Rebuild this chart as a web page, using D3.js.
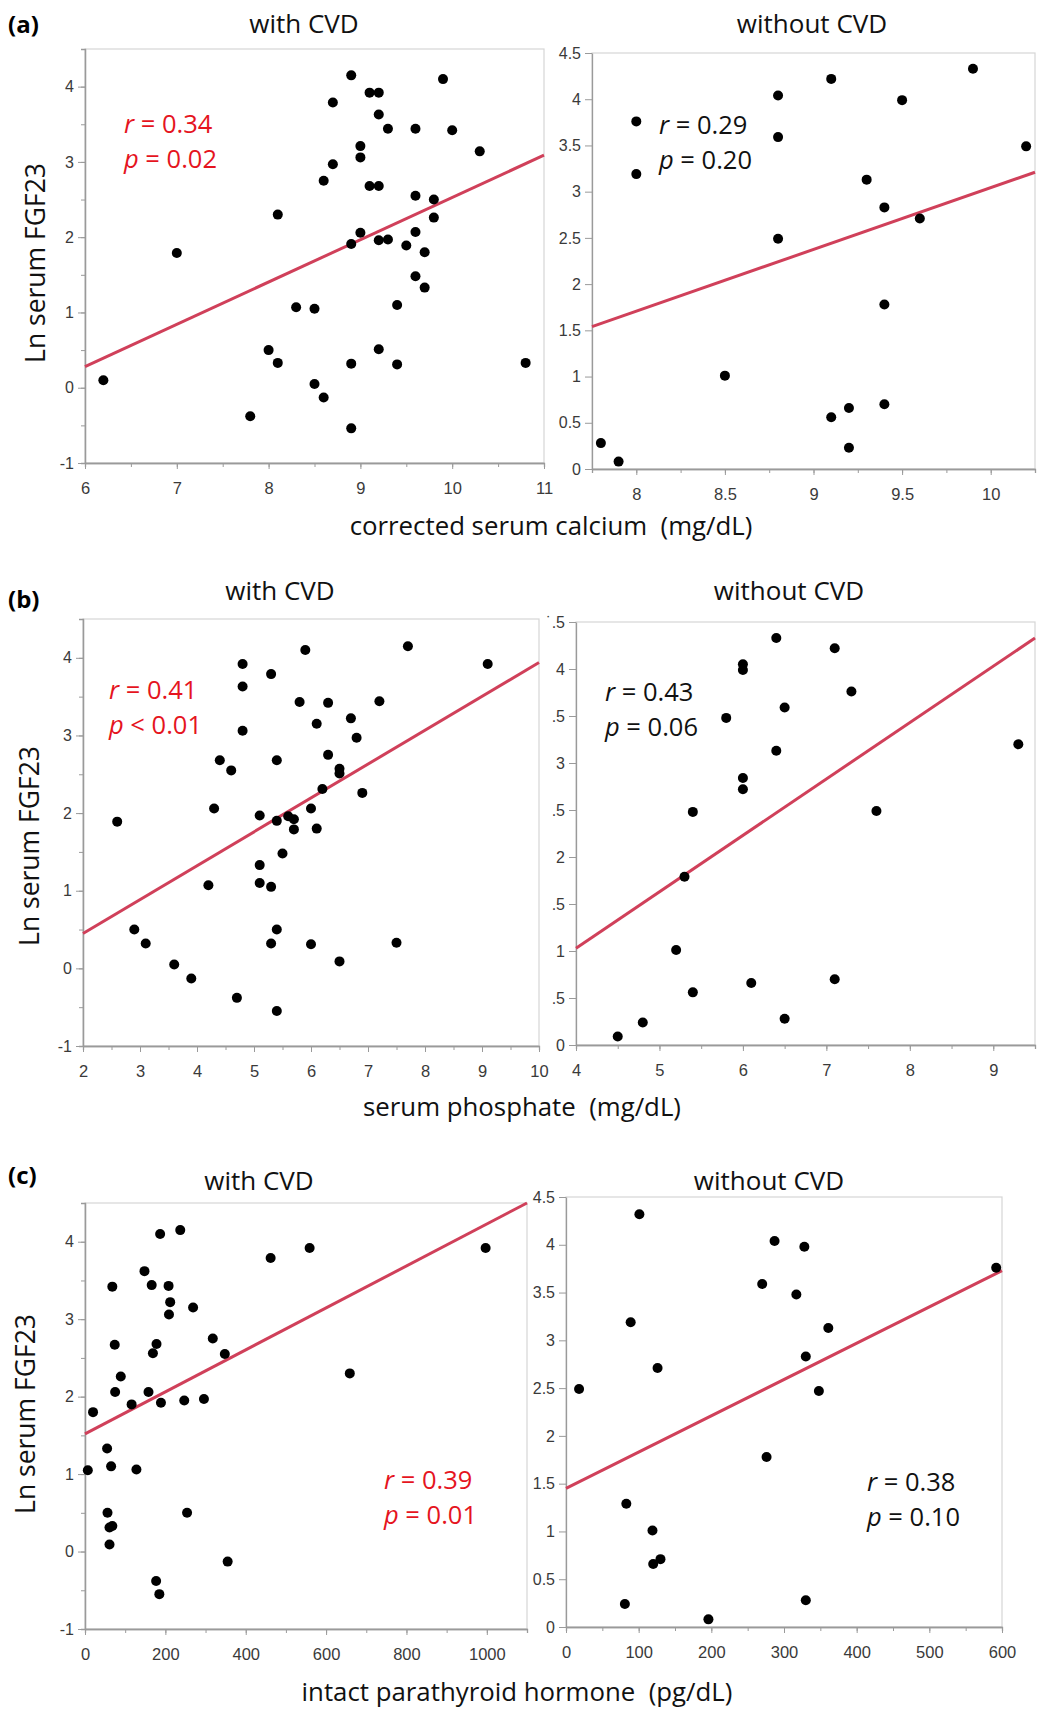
<!DOCTYPE html>
<html>
<head>
<meta charset="utf-8">
<script src="https://cdn.jsdelivr.net/npm/d3@7/dist/d3.min.js"></script>
<style>
  body { margin: 0; background: #fff; }
  svg text { font-family: "Open Sans", "Noto Sans", sans-serif; }
  .tick text { font-family: "Liberation Sans", Arial, sans-serif; fill: #3a3a3a; }
</style>
</head>
<body>
<div id="chart"></div>
<script>
// ---- data: [x, ln FGF23] ----
var calciumWith = [[6.2,0.10],[7.0,1.79],[7.8,-0.38],[8.0,0.50],[8.1,0.33],[8.1,2.30],[8.3,1.07],[8.5,1.05],
  [8.5,0.05],[8.6,-0.13],[8.6,2.75],[8.7,2.97],[8.7,3.79],[8.9,4.15],[8.9,1.91],[8.9,0.32],[8.9,-0.54],
  [9.0,3.21],[9.0,3.06],[9.0,2.06],[9.1,3.92],[9.1,2.68],[9.2,3.92],[9.2,3.63],[9.2,2.68],[9.2,1.96],
  [9.2,0.51],[9.3,3.44],[9.3,1.97],[9.4,1.10],[9.4,0.31],[9.5,1.89],[9.6,3.44],[9.6,2.55],[9.6,2.07],
  [9.6,1.48],[9.7,1.80],[9.7,1.33],[9.8,2.50],[9.8,2.26],[9.9,4.10],[10.0,3.42],[10.3,3.14],[10.8,0.33]];
var calciumWithout = [[7.8,0.28],[7.9,0.08],[8.0,3.76],[8.0,3.19],[8.5,1.01],[8.8,4.04],[8.8,3.59],[8.8,2.49],
  [9.1,4.22],[9.1,0.56],[9.2,0.66],[9.2,0.23],[9.3,3.13],[9.4,2.83],[9.4,1.78],[9.4,0.70],[9.5,3.99],
  [9.6,2.71],[9.9,4.33],[10.2,3.49]];
var phosphateWith = [[2.6,1.89],[2.9,0.50],[3.1,0.32],[3.6,0.05],[3.9,-0.13],[4.2,1.07],[4.3,2.06],[4.4,2.68],
  [4.6,2.55],[4.7,-0.38],[4.8,3.92],[4.8,3.63],[4.8,3.06],[5.1,1.97],[5.1,1.33],[5.1,1.10],[5.3,3.79],
  [5.3,1.05],[5.3,0.32],[5.4,2.68],[5.4,1.90],[5.4,0.50],[5.4,-0.55],[5.5,1.48],[5.6,1.96],[5.7,1.92],
  [5.7,1.79],[5.8,3.43],[5.9,4.10],[6.0,2.06],[6.0,0.31],[6.1,3.15],[6.1,1.80],[6.2,2.31],[6.3,3.42],
  [6.3,2.75],[6.5,2.57],[6.5,2.51],[6.5,0.09],[6.7,3.22],[6.8,2.97],[6.9,2.26],[7.2,3.44],[7.5,0.33],
  [7.7,4.15],[9.1,3.92]];
var phosphateWithout = [[4.5,0.09],[4.8,0.24],[5.2,1.01],[5.3,1.79],[5.4,2.48],[5.4,0.56],[5.8,3.48],[6.0,4.05],
  [6.0,3.99],[6.0,2.84],[6.0,2.72],[6.1,0.66],[6.4,4.33],[6.4,3.13],[6.5,3.59],[6.5,0.28],[7.1,4.22],
  [7.1,0.70],[7.3,3.76],[7.6,2.49],[9.3,3.20]];
var pthWith = [[7,1.05],[20,1.80],[55,1.33],[56,0.50],[61,0.09],[61,0.31],[68,0.33],[65,1.10],[68,3.42],
  [74,2.67],[75,2.06],[89,2.26],[116,1.90],[128,1.06],[148,3.62],[158,2.06],[166,3.44],[169,2.56],
  [177,-0.38],[178,2.68],[185,-0.55],[187,4.10],[189,1.92],[208,3.43],[209,3.06],[212,3.22],[237,4.15],
  [247,1.95],[254,0.50],[269,3.15],[296,1.97],[318,2.75],[348,2.55],[355,-0.13],[462,3.79],[559,3.92],
  [659,2.30],[997,3.92]];
var pthWithout = [[18,2.49],[81,0.24],[83,1.29],[89,3.19],[101,4.32],[119,1.01],[120,0.66],[126,2.71],
  [130,0.71],[196,0.08],[270,3.59],[276,1.78],[287,4.04],[317,3.48],[328,3.98],[330,2.83],[330,0.28],
  [348,2.47],[361,3.13],[592,3.76]];

// fitted lines, end points
var fitCalciumWith = [[6,0.28],[11,3.09]];
var fitCalciumWithout = [[7.75,1.54],[10.25,3.21]];
var fitPhosphateWith = [[2,0.45],[10,3.94]];
var fitPhosphateWithout = [[4,1.03],[9.5,4.33]];
var fitPthWith = [[0,1.52],[1100,4.50]];
var fitPthWithout = [[0,1.45],[600,3.73]];

// r / p annotations
var statsR = ['0.34','0.29','0.41','0.43','0.39','0.38'];
var statsP = ['= 0.02','= 0.20','< 0.01','= 0.06','= 0.01','= 0.10'];
var statsSignificant = [true,false,true,false,true,false];

// ticks
var yTicksWide = [-1,0,1,2,3,4];
var yLabelsWide = ['-1','0','1','2','3','4'];
var yTicksNarrow = [0,0.5,1,1.5,2,2.5,3,3.5,4,4.5];
var yLabelsNarrow = ['0','0.5','1','1.5','2','2.5','3','3.5','4','4.5'];
var yLabelsClipped = ['0','.5','1','.5','2','.5','3','.5','4','\u02d9.5'];
var xTicksCalciumWith = [6,7,8,9,10,11];
var xTicksCalciumWithout = [8,8.5,9,9.5,10];
var xTicksPhosphateWith = [2,3,4,5,6,7,8,9,10];
var xTicksPhosphateWithout = [4,5,6,7,8,9];
var xTicksPthWith = [0,200,400,600,800,1000];
var xTicksPthWithout = [0,100,200,300,400,500,600];

var rowTitles = ['with CVD','without CVD'];
var rowLetters = ['(a)','(b)','(c)'];
var xTitles = ['corrected serum calcium\u00a0\u00a0(mg/dL)','serum phosphate\u00a0\u00a0(mg/dL)','intact parathyroid hormone\u00a0\u00a0(pg/dL)'];
var yTitle = 'Ln serum FGF23';

var svg = d3.select('#chart').append('svg')
  .attr('width', 1040)
  .attr('height', 1709)
  .attr('xmlns', 'http://www.w3.org/2000/svg');

function plotPanel(p) {
  var x = d3.scaleLinear().domain(p.xDomain).range([p.left, p.right]);
  var y = d3.scaleLinear().domain(p.yDomain).range([p.bottom, p.top]);
  var g = svg.append('g');

  g.append('rect')
    .attr('x', p.left).attr('y', p.top)
    .attr('width', p.right - p.left).attr('height', p.bottom - p.top)
    .attr('fill', 'none').attr('stroke', '#d6d6d6').attr('stroke-width', 1.2);

  // minor ticks
  g.append('g').attr('transform', 'translate(0,' + p.bottom + ')')
    .call(d3.axisBottom(x).tickValues(d3.range(p.xDomain[0], p.xDomain[1] + 1e-9, p.xMinor)).tickSize(4).tickFormat(''));
  if (p.yMinor) {
    g.append('g').attr('transform', 'translate(' + p.left + ',0)')
      .call(d3.axisLeft(y).tickValues(d3.range(-1, 4.6, p.yMinor)).tickSize(4).tickFormat(''));
  }

  var xa = g.append('g').attr('transform', 'translate(0,' + p.bottom + ')')
    .call(d3.axisBottom(x).tickValues(p.xTicks).tickSize(6).tickSizeOuter(0).tickPadding(13)
      .tickFormat(function (d) { return String(d); }));
  xa.selectAll('text').style('font-size', '16.5px');

  var ya = g.append('g').attr('transform', 'translate(' + p.left + ',0)')
    .call(d3.axisLeft(y).tickValues(p.yTicks).tickSize(7).tickSizeOuter(0).tickPadding(4)
      .tickFormat(function (d, i) { return p.yLabels[i]; }));
  ya.selectAll('text').style('font-size', '16px');

  g.selectAll('.domain').attr('stroke', '#9a9a9a').attr('stroke-width', 1.3);
  g.selectAll('.tick line').attr('stroke', '#9a9a9a');

  g.append('path')
    .datum(p.fit)
    .attr('d', d3.line().x(function (d) { return x(d[0]); }).y(function (d) { return y(d[1]); }))
    .attr('stroke', '#d0405a').attr('stroke-width', 3).attr('fill', 'none');

  g.selectAll('circle.pt')
    .data(p.points)
    .enter()
    .append('circle')
    .attr('class', 'pt')
    .attr('cx', function (d) { return x(d[0]); })
    .attr('cy', function (d) { return y(d[1]); })
    .attr('r', 5)
    .attr('fill', '#000');

  var col = statsSignificant[p.i] ? '#e5141e' : '#111';
  var t1 = g.append('text').attr('x', p.ax).attr('y', p.ay).attr('fill', col).style('font-size', '25.5px');
  t1.append('tspan').style('font-style', 'italic').text('r');
  t1.append('tspan').text(' = ' + statsR[p.i]);
  var t2 = g.append('text').attr('x', p.ax).attr('y', p.ay + 35).attr('fill', col).style('font-size', '25.5px');
  t2.append('tspan').style('font-style', 'italic').text('p');
  t2.append('tspan').text(' ' + statsP[p.i]);
}

var panels = [
  { i: 0, points: calciumWith, fit: fitCalciumWith, xDomain: [6, 11], yDomain: [-1, 4.5], left: 85, right: 544, top: 49, bottom: 463,
    xTicks: xTicksCalciumWith, xMinor: 0.5, yTicks: yTicksWide, yLabels: yLabelsWide, yMinor: 0.5, ax: 124, ay: 133 },
  { i: 1, points: calciumWithout, fit: fitCalciumWithout, xDomain: [7.75, 10.25], yDomain: [0, 4.5], left: 592, right: 1035, top: 53, bottom: 469,
    xTicks: xTicksCalciumWithout, xMinor: 0.25, yTicks: yTicksNarrow, yLabels: yLabelsNarrow, ax: 659, ay: 134 },
  { i: 2, points: phosphateWith, fit: fitPhosphateWith, xDomain: [2, 10], yDomain: [-1, 4.5], left: 83, right: 539, top: 619, bottom: 1046,
    xTicks: xTicksPhosphateWith, xMinor: 0.5, yTicks: yTicksWide, yLabels: yLabelsWide, yMinor: 0.5, ax: 109, ay: 699 },
  { i: 3, points: phosphateWithout, fit: fitPhosphateWithout, xDomain: [4, 9.5], yDomain: [0, 4.5], left: 576, right: 1035, top: 622, bottom: 1045,
    xTicks: xTicksPhosphateWithout, xMinor: 0.5, yTicks: yTicksNarrow, yLabels: yLabelsClipped, ax: 605, ay: 701 },
  { i: 4, points: pthWith, fit: fitPthWith, xDomain: [0, 1100], yDomain: [-1, 4.5], left: 85, right: 527, top: 1203, bottom: 1629,
    xTicks: xTicksPthWith, xMinor: 100, yTicks: yTicksWide, yLabels: yLabelsWide, yMinor: 0.5, ax: 384, ay: 1489 },
  { i: 5, points: pthWithout, fit: fitPthWithout, xDomain: [0, 600], yDomain: [0, 4.5], left: 566, right: 1002, top: 1197, bottom: 1627,
    xTicks: xTicksPthWithout, xMinor: 50, yTicks: yTicksNarrow, yLabels: yLabelsNarrow, ax: 867, ay: 1491 }
];
panels.forEach(plotPanel);

// titles and labels
var titleX = [[304, 812], [280, 789], [259, 769]];
var titleY = [33, 600, 1190];
var letterY = [33, 608, 1184];
var yTitlePos = [[45, 263], [39, 846], [35, 1414]];
var xTitlePos = [[551, 535], [522, 1116], [517, 1701]];

rowLetters.forEach(function (l, r) {
  svg.append('text').attr('x', 8).attr('y', letterY[r])
    .style('font-size', '24px').style('font-weight', 'bold').attr('fill', '#000').text(l);
  rowTitles.forEach(function (t, c) {
    svg.append('text').attr('x', titleX[r][c]).attr('y', titleY[r])
      .attr('text-anchor', 'middle').style('font-size', '26px').attr('fill', '#111').text(t);
  });
  svg.append('text')
    .attr('transform', 'translate(' + yTitlePos[r][0] + ',' + yTitlePos[r][1] + ') rotate(-90)')
    .attr('text-anchor', 'middle').style('font-size', '26.5px').attr('fill', '#111').text(yTitle);
  svg.append('text').attr('x', xTitlePos[r][0]).attr('y', xTitlePos[r][1])
    .attr('text-anchor', 'middle').style('font-size', '25.8px').attr('fill', '#111').text(xTitles[r]);
});
</script>
</body>
</html>
